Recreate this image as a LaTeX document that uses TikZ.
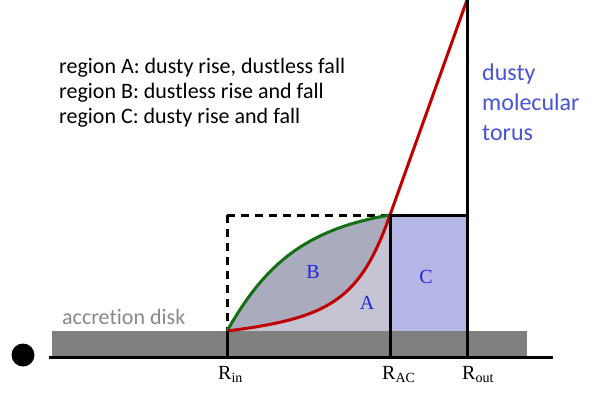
\documentclass[tikz,border=0pt]{standalone}
\usepackage{fontspec}
\setmainfont{Carlito}[Ligatures=NoCommon]
\newfontfamily\serifR{Liberation Serif}
\definecolor{diskgray}{RGB}{128,128,128}
\definecolor{fillA}{RGB}{196,196,210}
\definecolor{fillB}{RGB}{171,171,190}
\definecolor{fillC}{RGB}{182,182,230}
\definecolor{redc}{RGB}{192,0,0}
\definecolor{greenc}{RGB}{20,110,20}
\definecolor{torusblue}{RGB}{70,84,214}
\definecolor{lblblue}{RGB}{35,35,230}
\definecolor{txtgray}{RGB}{137,137,137}
\begin{document}
\begin{tikzpicture}[x=1pt,y=-1pt,
  blk/.style={line width=3pt,black},
  dashbox/.style={line width=3pt,black,dash pattern=on 8pt off 6pt},
  redcurve/.style={line width=3pt,redc},
  greencurve/.style={line width=3pt,greenc},
  regionlbl/.style={font=\serifR\fontsize{20}{22}\selectfont,text=lblblue,inner sep=0pt},
  rlbl/.style={font=\serifR\fontsize{20}{22}\selectfont,anchor=base west,inner sep=0pt},
  notes/.style={font=\fontsize{22}{25}\selectfont,align=left,anchor=base west,inner sep=0pt}]
\useasboundingbox (0,0) rectangle (609,392);
% key coordinates
\coordinate (in) at (227,331);
\coordinate (ac) at (390,215);
\coordinate (acb) at (390,331);
\coordinate (outt) at (467,215);
\coordinate (top) at (467,0);
\coordinate (corner) at (227,215);
\coordinate (inaxis) at (227,357);
\coordinate (acaxis) at (390,357);
\coordinate (outaxis) at (467,357);
\coordinate (axl) at (49,357);
\coordinate (axr) at (553,357);
% fills
\fill[fillA] (in) .. controls (330,318) and (360,300) .. (ac) -- (acb) -- cycle;
\fill[fillB] (in) .. controls (262,270) and (300,230) .. (ac) .. controls (360,300) and (330,318) .. (in) -- cycle;
\fill[fillC] (ac) rectangle (467,331);
% disk
\fill[diskgray] (52,331) rectangle (527,356);
% dashed box
\draw[dashbox] (corner) -- (in);
\draw[dashbox] (corner) -- (ac);
% curves
\draw[greencurve] (in) .. controls (262,270) and (300,230) .. (ac);
\draw[redcurve] (in) .. controls (330,318) and (360,300) .. (ac) -- (top);
% black lines
\draw[blk] (in) -- (inaxis);
\draw[blk] (ac) -- (acaxis);
\draw[blk] (ac) -- (outt);
\draw[blk] (top) -- (outaxis);
\draw[blk] (axl) -- (axr);
% dot
\fill[black] (23,355) circle (11.5);
% labels
\node[regionlbl] (lA) at (367,303) {A};
\node[regionlbl] (lB) at (313,272) {B};
\node[regionlbl] (lC) at (426,277) {C};
\node[rlbl] (rin) at (218,379) {R\textsubscript{in}};
\node[rlbl] (rac) at (382,379) {R\textsubscript{AC}};
\node[rlbl] (rout) at (462,379) {R\textsubscript{out}};
\node[notes] (regions) at (59,123) {region A: dusty rise, dustless fall\\region B: dustless rise and fall\\region C: dusty rise and fall};
\node[font=\fontsize{24}{30}\selectfont,text=torusblue,align=left,anchor=base west,inner sep=0pt] (torus) at (482,140) {dusty\\molecular\\torus};
\node[font=\fontsize{22}{25}\selectfont,text=txtgray,anchor=base west,inner sep=0pt] (disk) at (62,324) {accretion disk};
\end{tikzpicture}
\end{document}
